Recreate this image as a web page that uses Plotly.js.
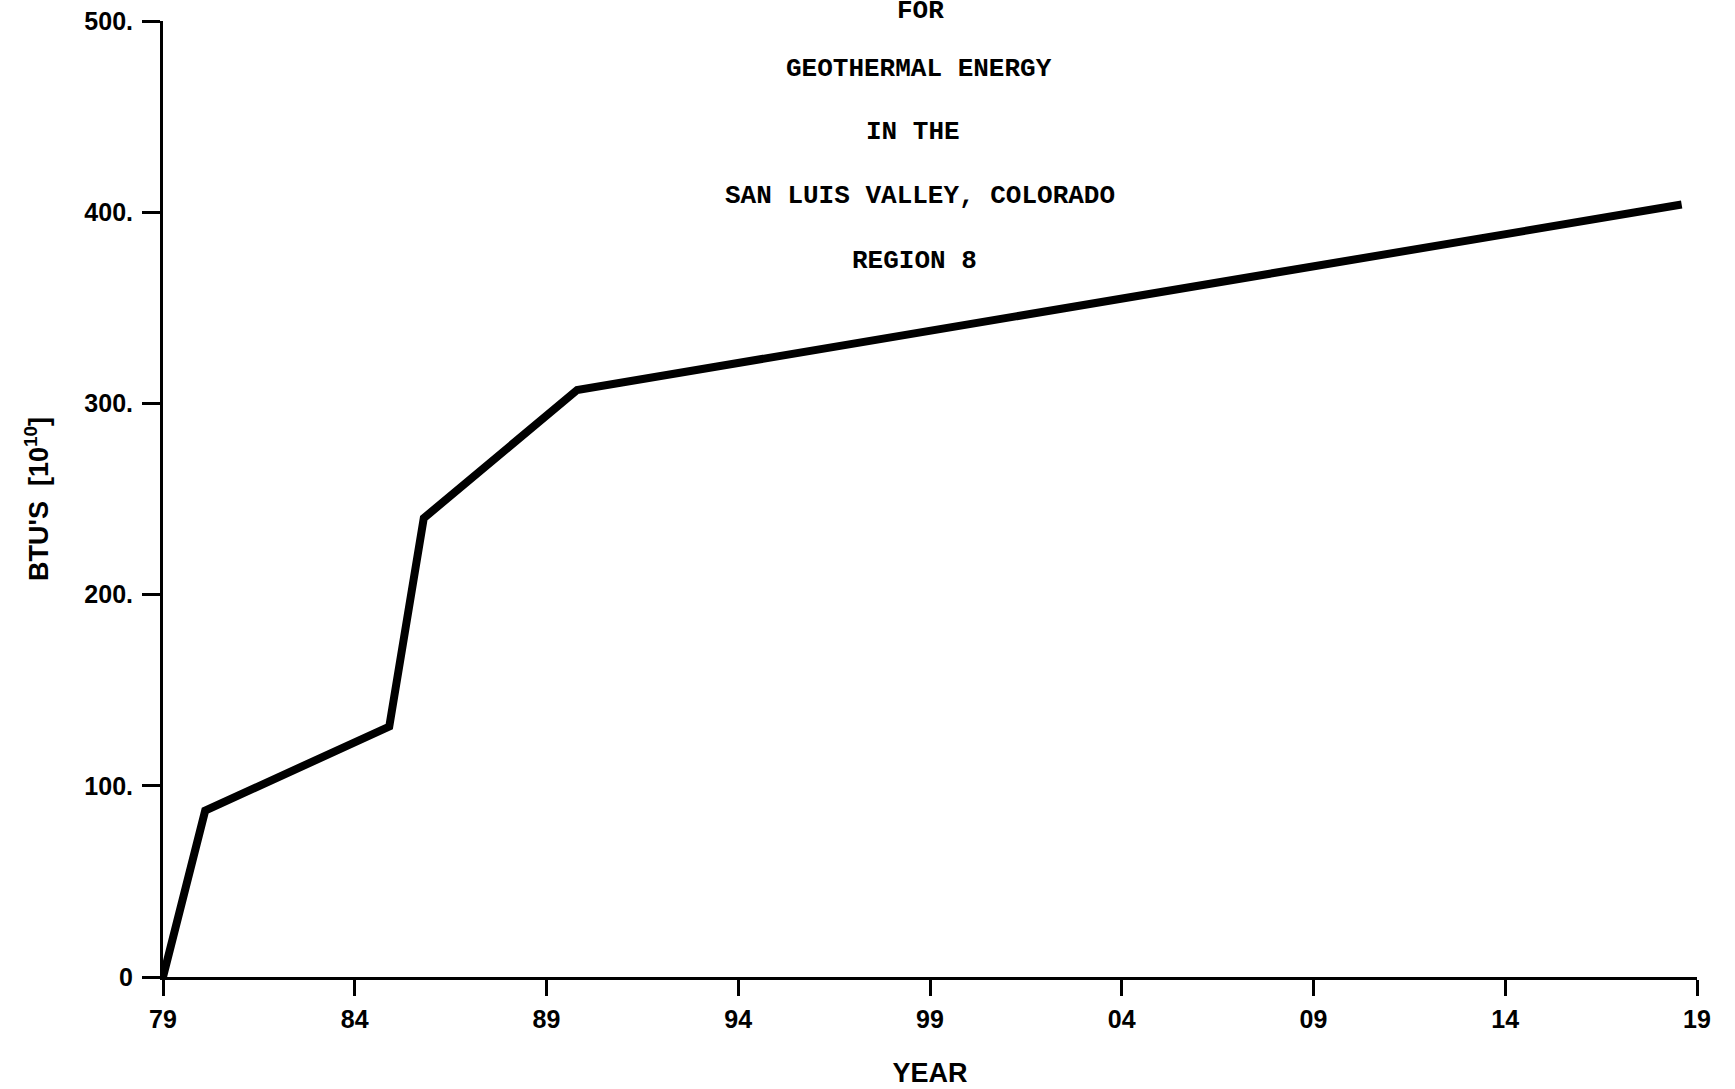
<!DOCTYPE html>
<html>
<head>
<meta charset="utf-8">
<script src="https://cdn.plot.ly/plotly-3.0.1.min.js"></script>
<style>html,body{margin:0;padding:0;background:#fff;}#chart{width:1735px;height:1089px;}</style>
</head>
<body>
<div id="chart"></div>
<script>
// Data
const years = [1979, 1980.1, 1984.9, 1985.8, 1989.8, 2018.6];
const btus = [0, 87, 131, 240, 307, 404];

const xTickVals = [1979, 1984, 1989, 1994, 1999, 2004, 2009, 2014, 2019];
const xTickText = ['79', '84', '89', '94', '99', '04', '09', '14', '19'];
const yTickVals = [0, 100, 200, 300, 400, 500];
const yTickText = ['0', '100.', '200.', '300.', '400.', '500.'];

const titleLines = ['FOR', 'GEOTHERMAL ENERGY', 'IN THE', 'SAN LUIS VALLEY, COLORADO', 'REGION 8'];
const titleX = [0.4935, 0.4928, 0.4890, 0.4935, 0.4896];
const titleY = [1.0108, 0.9498, 0.8838, 0.8169, 0.7490];

const tickFont = {family: 'Liberation Sans, Arial, sans-serif', size: 25, color: '#000', weight: 'bold'};

const annotations = titleLines.map((t, i) => ({
  text: t, xref: 'paper', yref: 'paper', x: titleX[i], y: titleY[i],
  xanchor: 'center', yanchor: 'middle', showarrow: false,
  font: {family: 'Liberation Mono, DejaVu Sans Mono, monospace', size: 26, color: '#000', weight: 'bold'}
}));

const trace = {
  x: years, y: btus, type: 'scatter', mode: 'lines',
  line: {color: '#000', width: 8},
  hoverinfo: 'x+y', showlegend: false
};

const layout = {
  width: 1735, height: 1089,
  margin: {l: 163, r: 38, t: 21, b: 112},
  paper_bgcolor: '#fff', plot_bgcolor: '#fff',
  showlegend: false,
  xaxis: {
    range: [1979, 2019], tickvals: xTickVals, ticktext: xTickText,
    showgrid: false, zeroline: false, showline: true, linecolor: '#000', linewidth: 3,
    ticks: 'outside', ticklen: 16, tickwidth: 3, tickcolor: '#000',
    tickfont: tickFont, ticklabelstandoff: 2,
    title: {text: 'YEAR', font: {family: 'Liberation Sans, Arial, sans-serif', size: 27, color: '#000', weight: 'bold'}, standoff: 32},
    automargin: false, fixedrange: true
  },
  yaxis: {
    range: [0, 500], tickvals: yTickVals, ticktext: yTickText,
    showgrid: false, zeroline: false, showline: true, linecolor: '#000', linewidth: 3,
    ticks: 'outside', ticklen: 18, tickwidth: 3, tickcolor: '#000',
    tickfont: tickFont, ticklabelstandoff: 4,
    title: {text: "BTU'S\u00a0\u00a0[10<sup>10</sup>]", font: {family: 'Liberation Sans, Arial, sans-serif', size: 27, color: '#000', weight: 'bold'}, standoff: 28},
    automargin: false, fixedrange: true
  },
  annotations: annotations
};

Plotly.newPlot('chart', [trace], layout, {staticPlot: true, displayModeBar: false});
</script>
</body>
</html>
